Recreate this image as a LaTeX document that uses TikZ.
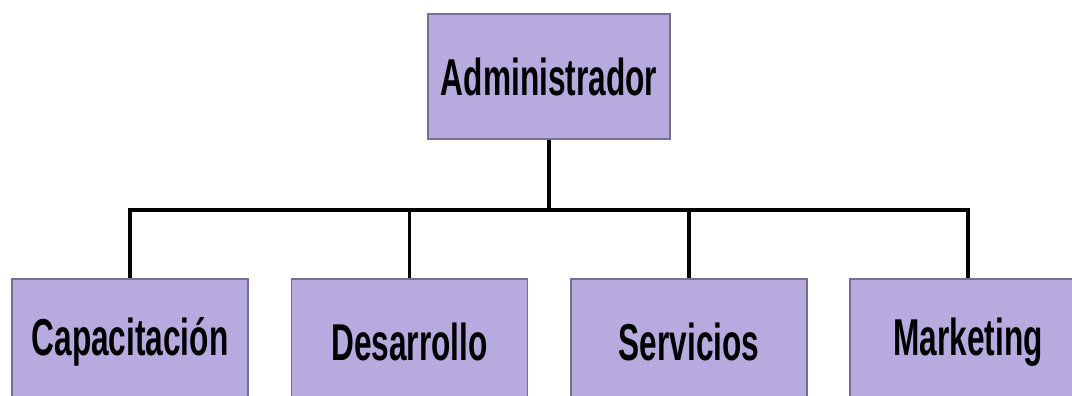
\documentclass[tikz,border=0pt]{standalone}
\usepackage{fontspec}
\setmainfont[FakeStretch=0.61]{Liberation Sans}
\usepackage{tikz}
\definecolor{lila}{RGB}{183,170,222}
\definecolor{lilaedge}{RGB}{118,110,148}

\begin{document}
\begin{tikzpicture}[
    unit/.style={draw=lilaedge, fill=lila, line width=0.8pt,
      minimum width=4.72cm, minimum height=2.52cm, inner sep=0,
      font=\fontsize{29.5}{34}\selectfont\bfseries},
    link/.style={line width=2.2pt, black}]
  \useasboundingbox (0, 0) rectangle (21.44, 7.92);
  \clip (0, 0) rectangle (21.44, 7.92);

  \node[unit, minimum width=4.84cm, minimum height=2.5cm]
    (adm) at (10.98, 6.39) {Administrador};

  \node[unit] (cap) at (2.60, 1.08) {Capacitación};
  \node[unit] (des) at (8.19, 1.08) {Desarrollo};
  \node[unit] (ser) at (13.78, 1.08) {Servicios};
  \node[unit] (mkt) at (19.36, 1.08) {Marketing};

  \coordinate (J) at (10.98, 3.72);

  \draw[link]
    (adm) -- (J)
    (J) -| (cap)
    (J) -| (des)
    (J) -| (ser)
    (J) -| (mkt);
\end{tikzpicture}
\end{document}
